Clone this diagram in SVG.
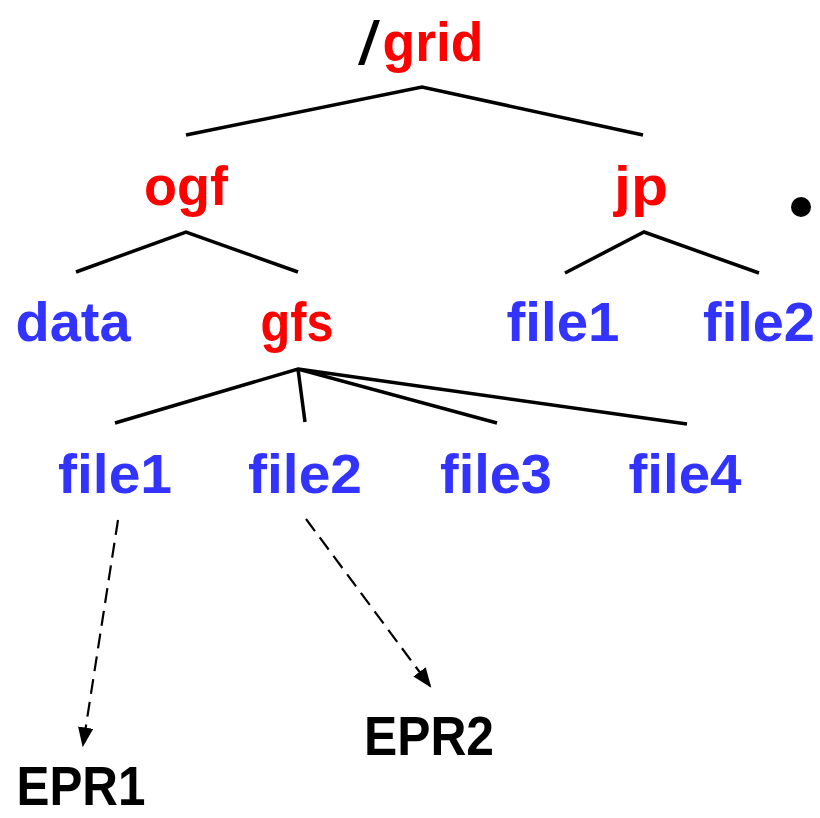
<svg xmlns="http://www.w3.org/2000/svg" width="820" height="818" viewBox="0 0 820 818">
<style>
text{font-family:"Liberation Sans",Arial,sans-serif;font-weight:bold;font-size:56px;text-anchor:middle}
.r{fill:#ff0000}.b{fill:#3333ff}.k{fill:#000}
.t{stroke:#000;stroke-width:3.5;fill:none;stroke-linecap:butt}
.d{stroke:#000;stroke-width:2.2;fill:none;stroke-dasharray:15 8}
</style>
<defs>
<marker id="ah" markerWidth="9" markerHeight="7" refX="8" refY="3.5" orient="auto" markerUnits="strokeWidth">
<path d="M0,0 L9,3.5 L0,7 z" fill="#000"/>
</marker>
</defs>
<rect width="820" height="818" fill="#fff"/>
<g id="connectors">
<path class="t" d="M186,135 L422,87 L643,135"/>
<path class="t" d="M76,272 L186,232 L298,272"/>
<path class="t" d="M565,273 L644,232 L759,273"/>
<path class="t" d="M115,423 L298,369 L497,423 M298,369 L305,422 M298,369 L687,424"/>
<path class="d" d="M118,520 L83,745" marker-end="url(#ah)"/>
<path class="d" d="M306,519 L430,686" marker-end="url(#ah)"/>
</g>
<g id="root"><text class="k" x="369" y="64" style="font-weight:normal;font-size:62px" textLength="22" lengthAdjust="spacingAndGlyphs">/</text><text class="r" x="433" y="61" textLength="101" lengthAdjust="spacingAndGlyphs">grid</text></g>
<g id="ogf"><text class="r" x="186" y="205" textLength="84" lengthAdjust="spacingAndGlyphs">ogf</text></g>
<g id="jp"><text class="r" x="641" y="205" textLength="54" lengthAdjust="spacingAndGlyphs">jp</text></g>
<g id="dot"><circle cx="801" cy="207" r="10" fill="#000"/></g>
<g id="data"><text class="b" x="73" y="341" textLength="115" lengthAdjust="spacingAndGlyphs">data</text></g>
<g id="gfs"><text class="r" x="297" y="341" textLength="73" lengthAdjust="spacingAndGlyphs">gfs</text></g>
<g id="jp-file1"><text class="b" x="563" y="341" textLength="113" lengthAdjust="spacingAndGlyphs">file1</text></g>
<g id="jp-file2"><text class="b" x="759" y="341" textLength="112" lengthAdjust="spacingAndGlyphs">file2</text></g>
<g id="gfs-file1"><text class="b" x="115" y="493" textLength="114" lengthAdjust="spacingAndGlyphs">file1</text></g>
<g id="gfs-file2"><text class="b" x="305" y="493" textLength="114" lengthAdjust="spacingAndGlyphs">file2</text></g>
<g id="gfs-file3"><text class="b" x="496" y="493" textLength="112" lengthAdjust="spacingAndGlyphs">file3</text></g>
<g id="gfs-file4"><text class="b" x="685" y="493" textLength="113" lengthAdjust="spacingAndGlyphs">file4</text></g>
<g id="epr2"><text class="k" x="429" y="755" textLength="130" lengthAdjust="spacingAndGlyphs">EPR2</text></g>
<g id="epr1"><text class="k" x="81" y="805" textLength="129" lengthAdjust="spacingAndGlyphs">EPR1</text></g>
</svg>
